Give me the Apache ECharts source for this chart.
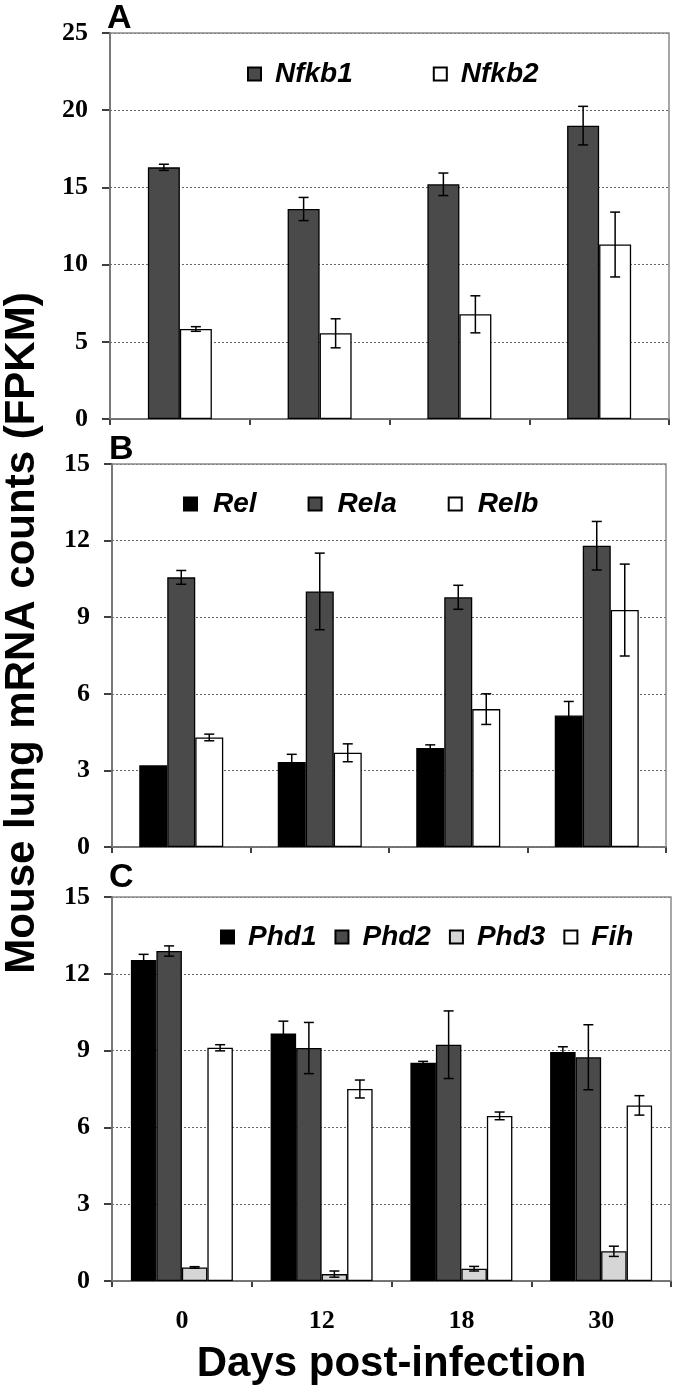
<!DOCTYPE html>
<html><head><meta charset="utf-8">
<script src="https://cdn.jsdelivr.net/npm/echarts@6/dist/echarts.min.js"></script>
<style>html,body{margin:0;padding:0;background:#fff}#c{width:675px;height:1391px}</style>
</head><body><div id="c"></div>
<script>
const categories = ['0', '12', '18', '30'];
const yTicksA = [0, 5, 10, 15, 20, 25];
const yTicksBC = [0, 3, 6, 9, 12, 15];

const nfkb1 = [16.3, 13.6, 15.2, 19.0];
const nfkb1Err = [0.2, 0.75, 0.73, 1.25];
const nfkb2 = [5.83, 5.55, 6.78, 11.3];
const nfkb2Err = [0.15, 0.94, 1.2, 2.1];

const rel = [3.2, 3.33, 3.88, 5.15];
const relErr = [0, 0.3, 0.12, 0.55];
const rela = [10.56, 10.01, 9.78, 11.8];
const relaErr = [0.27, 1.5, 0.47, 0.95];
const relb = [4.29, 3.69, 5.4, 9.28];
const relbErr = [0.13, 0.35, 0.6, 1.8];

const phd1 = [12.54, 9.67, 8.53, 8.95];
const phd1Err = [0.22, 0.48, 0.05, 0.2];
const phd2 = [12.89, 9.1, 9.23, 8.74];
const phd2Err = [0.2, 1.0, 1.32, 1.27];
const phd3 = [0.53, 0.27, 0.48, 1.16];
const phd3Err = [0.03, 0.12, 0.09, 0.2];
const fih = [9.11, 7.5, 6.45, 6.86];
const fihErr = [0.12, 0.35, 0.15, 0.38];

const DARK = '#4a4a4a', BLACK = '#000', LIGHT = '#d6d6d6', WHITE = '#fff';

const panels = [
  { grid: {left: 110, top: 33, width: 559, height: 386}, max: 25, interval: 5, barWidth: 32,
    legend: {left: 247, top: 60, itemGap: 80, pad: 9},
    series: [['Nfkb1', nfkb1, nfkb1Err, DARK], ['Nfkb2', nfkb2, nfkb2Err, WHITE]] },
  { grid: {left: 112, top: 464, width: 554, height: 383}, max: 15, interval: 3, barWidth: 28,
    legend: {left: 183, top: 490, itemGap: 51, pad: 11},
    series: [['Rel', rel, relErr, BLACK], ['Rela', rela, relaErr, DARK], ['Relb', relb, relbErr, WHITE]] },
  { grid: {left: 112, top: 897, width: 559, height: 384}, max: 15, interval: 3, barWidth: 25.5,
    legend: {left: 220, top: 923, itemGap: 18, pad: 9},
    series: [['Phd1', phd1, phd1Err, BLACK], ['Phd2', phd2, phd2Err, DARK], ['Phd3', phd3, phd3Err, LIGHT], ['Fih', fih, fihErr, WHITE]] }
];

const grids = [], xAxes = [], yAxes = [], legends = [], series = [];
panels.forEach((p, pi) => {
  grids.push(Object.assign({show: true, borderColor: '#8a8a8a', borderWidth: 1.5, z: 1}, p.grid));
  const last = pi === panels.length - 1;
  xAxes.push({
    type: 'category', gridIndex: pi, data: categories,
    axisLine: {lineStyle: {color: '#000', width: 1.5}},
    axisTick: {show: true, length: 6, lineStyle: {color: '#000', width: 1.5}},
    axisLabel: {show: last, margin: 27, fontFamily: 'Liberation Serif', fontWeight: 'bold', fontSize: 26, color: '#000'},
    name: last ? 'Days post-infection' : '', nameLocation: 'middle', nameGap: 62,
    nameTextStyle: {fontFamily: 'Liberation Sans', fontWeight: 'bold', fontSize: 42, color: '#000'}
  });
  yAxes.push({
    type: 'value', gridIndex: pi, min: 0, max: p.max, interval: p.interval,
    axisLine: {show: true, lineStyle: {color: '#000', width: 1.5}},
    axisTick: {show: true, length: 8, lineStyle: {color: '#000', width: 1.5}},
    axisLabel: {margin: 22, fontFamily: 'Liberation Serif', fontWeight: 'bold', fontSize: 26, color: '#000'},
    splitLine: {show: true, lineStyle: {type: [2, 2], color: '#666', width: 1}}
  });
  legends.push({
    left: p.legend.left, top: p.legend.top, itemGap: p.legend.itemGap, padding: 0,
    icon: 'rect', itemWidth: 13, itemHeight: 13,
    data: p.series.map(s => s[0]),
    textStyle: {fontFamily: 'Liberation Sans', fontWeight: 'bold', fontStyle: 'italic', fontSize: 28, color: '#000', padding: [0, 0, 0, p.legend.pad]}
  });
  const n = p.series.length;
  p.series.forEach((s, si) => {
    series.push({
      name: s[0], type: 'bar', xAxisIndex: pi, yAxisIndex: pi, data: s[1],
      barWidth: p.barWidth, barGap: '0%',
      itemStyle: {color: s[3], borderColor: '#000', borderWidth: 1.3},
      z: 2
    });
    const offset = (si - (n - 1) / 2) * p.barWidth;
    series.push({
      type: 'custom', xAxisIndex: pi, yAxisIndex: pi, z: 5,
      data: s[1].map((v, i) => [i, v - s[2][i], v + s[2][i], s[2][i]]),
      renderItem: function (params, api) {
        if (api.value(3) <= 0) return null;
        const lo = api.coord([api.value(0), api.value(1)]);
        const hi = api.coord([api.value(0), api.value(2)]);
        const x = lo[0] + offset;
        const cap = 5;
        const st = {stroke: '#000', lineWidth: 1.5};
        return {type: 'group', children: [
          {type: 'line', shape: {x1: x, y1: lo[1], x2: x, y2: hi[1]}, style: st},
          {type: 'line', shape: {x1: x - cap, y1: lo[1], x2: x + cap, y2: lo[1]}, style: st},
          {type: 'line', shape: {x1: x - cap, y1: hi[1], x2: x + cap, y2: hi[1]}, style: st}
        ]};
      }
    });
  });
});

const chart = echarts.init(document.getElementById('c'), null, {renderer: 'canvas'});
chart.setOption({
  animation: false,
  backgroundColor: '#fff',
  grid: grids, xAxis: xAxes, yAxis: yAxes, legend: legends, series: series,
  graphic: [
    {type: 'text', left: 107, top: 2, style: {text: 'A', font: 'bold 34px "Liberation Sans"', fill: '#000'}},
    {type: 'text', left: 109, top: 433, style: {text: 'B', font: 'bold 34px "Liberation Sans"', fill: '#000'}},
    {type: 'text', left: 109, top: 861, style: {text: 'C', font: 'bold 34px "Liberation Sans"', fill: '#000'}},
    {type: 'text', x: 22, y: 633, rotation: Math.PI / 2,
     style: {text: 'Mouse lung mRNA counts (FPKM)', font: 'bold 42px "Liberation Sans"', fill: '#000', textAlign: 'center', textVerticalAlign: 'middle'}}
  ]
});
</script></body></html>
